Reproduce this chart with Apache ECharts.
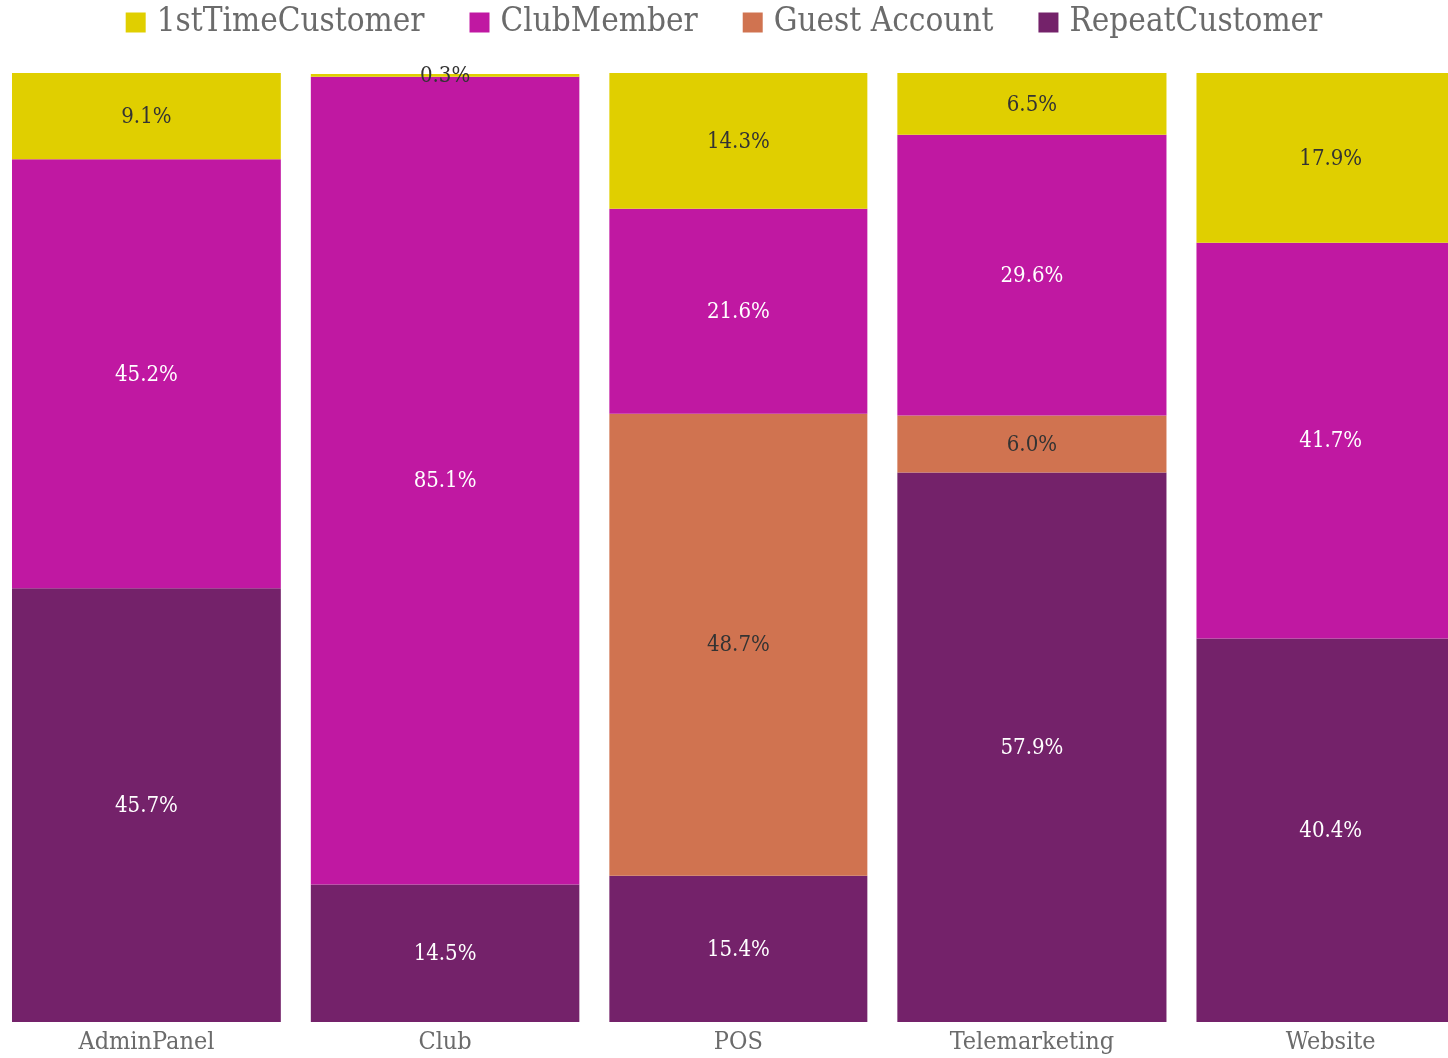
<!DOCTYPE html>
<html>
<head>
<meta charset="utf-8">
<script src="https://cdn.jsdelivr.net/npm/echarts@6/dist/echarts.min.js"></script>
<style>
  html, body { margin: 0; padding: 0; background: #fff; }
  #chart { width: 1448px; height: 1058px; }
</style>
</head>
<body>
<div id="chart"></div>
<script>
// Sales channels and their share of all orders (column widths of the mekko)
const channels = ['AdminPanel', 'Club', 'POS', 'Telemarketing', 'Website'];
const channelShare = [20.15, 20.13, 19.42, 20.17, 20.13];

// Customer-type mix within each channel, in percent (stacked bottom to top)
const repeatCustomer = [45.7, 14.5, 15.4, 57.9, 40.4];
const guestAccount   = [0, 0, 48.7, 6.0, 0];
const clubMember     = [45.2, 85.1, 21.6, 29.6, 41.7];
const firstTime      = [9.1, 0.3, 14.3, 6.5, 17.9];

const stackOrder = [
  { name: 'RepeatCustomer',  values: repeatCustomer, color: '#74226a', text: '#ffffff' },
  { name: 'Guest Account',   values: guestAccount,   color: '#d07350', text: '#333333' },
  { name: 'ClubMember',      values: clubMember,     color: '#c018a2', text: '#ffffff' },
  { name: '1stTimeCustomer', values: firstTime,      color: '#e0cf00', text: '#333333' }
];
const legendOrder = ['1stTimeCustomer', 'ClubMember', 'Guest Account', 'RepeatCustomer'];

const FONT = '"DejaVu Serif Condensed", "DejaVu Serif", serif';
const GAP = 15; // half of the white gutter between columns, px

// Column start positions along the x axis
const colStart = [];
let acc = 0;
channelShare.forEach(w => { colStart.push(acc); acc += w; });
const colCenter = channelShare.map((w, i) => colStart[i] + w / 2);

function buildSeries(layerIdx) {
  const layer = stackOrder[layerIdx];
  const data = channels.map((c, i) => {
    let base = 0;
    for (let k = 0; k < layerIdx; k++) base += stackOrder[k].values[i];
    return [i, base, layer.values[i]];
  });
  return {
    type: 'custom',
    name: layer.name,
    color: layer.color,
    clip: false,
    data: data,
    renderItem: function (params, api) {
      const i = api.value(0);
      const base = api.value(1);
      const v = api.value(2);
      if (!v) return null;
      const p0 = api.coord([colStart[i], base]);
      const p1 = api.coord([colStart[i] + channelShare[i], base + v]);
      const x = p0[0] + GAP, w = p1[0] - p0[0] - 2 * GAP;
      const y = p1[1], h = p0[1] - p1[1];
      return {
        type: 'group',
        children: [
          { type: 'rect', shape: { x: x, y: y, width: w, height: h },
            style: { fill: layer.color } },
          { type: 'text',
            style: { text: v.toFixed(1) + '%', x: x + w / 2, y: y + h / 2 + 1,
                     align: 'center', verticalAlign: 'middle',
                     fill: layer.text, font: '22px ' + FONT } }
        ]
      };
    }
  };
}

const chart = echarts.init(document.getElementById('chart'));
chart.setOption({
  animation: false,
  legend: {
    data: legendOrder,
    top: 1,
    left: 'center',
    icon: 'rect',
    itemWidth: 20,
    itemHeight: 20,
    itemGap: 45,
    textStyle: { fontSize: 33, color: '#6b6b6b', fontFamily: FONT, padding: [0, 0, 0, 6] }
  },
  grid: { left: 0, right: 0, top: 73, bottom: 36 },
  xAxis: {
    // the last column runs past the right edge of the page
    type: 'value', min: 0.2023, max: 97.842,
    splitLine: { show: false },
    axisLine: { show: false },
    axisTick: { show: false },
    axisLabel: {
      customValues: colCenter,
      formatter: function (val) {
        let best = 0;
        colCenter.forEach((c, i) => { if (Math.abs(c - val) < Math.abs(colCenter[best] - val)) best = i; });
        return channels[best];
      },
      fontSize: 25, color: '#6b6b6b', fontFamily: FONT, margin: 8
    }
  },
  yAxis: { type: 'value', min: 0, max: 100, show: false },
  series: stackOrder.map((_, k) => buildSeries(k))
});
</script>
</body>
</html>
